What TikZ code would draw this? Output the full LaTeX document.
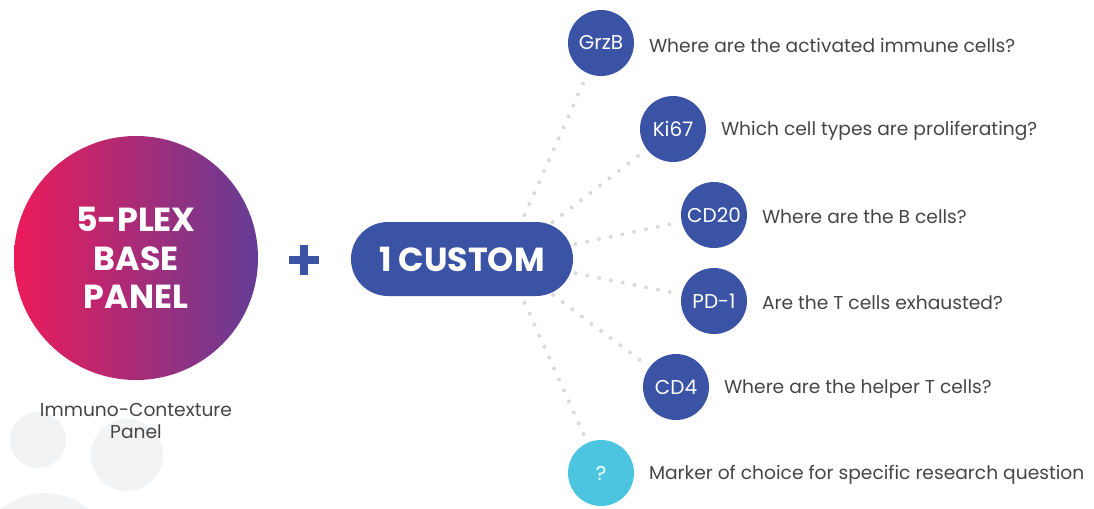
\documentclass[tikz,border=0pt]{standalone}
\usepackage{fontspec}
\setmainfont{Poppins}
\usetikzlibrary{positioning}

\definecolor{markerblue}{HTML}{3A53A4}
\definecolor{markercyan}{HTML}{4BC5E0}
\definecolor{plexred}{HTML}{EC1B5A}
\definecolor{plexpurple}{HTML}{643C95}
\definecolor{dotgray}{HTML}{D8DADF}
\definecolor{bubblegray}{HTML}{F2F3F5}
\definecolor{textgray}{HTML}{454545}

\tikzset{every picture/.style={line width=0.75pt}}
\tikzset{
  marker/.style={circle, fill=markerblue, text=white, minimum size=49.5pt, inner sep=0pt,
    font=\fontsize{15}{17}\selectfont},
  question/.style={inner sep=0pt, text=textgray, yshift=-1.5pt, font=\fontsize{14}{16}\selectfont},
  dotline/.style={dotgray, line width=3pt, line cap=round, dash pattern=on 0pt off 9pt,
    shorten >=3pt},
  node distance=10.5pt
}

\begin{document}
\begin{tikzpicture}[x=0.75pt,y=0.75pt,yscale=-1,xscale=1]
    \useasboundingbox (0,0) rectangle (1094,508);
    \clip (0,0) rectangle (1094,508);
    %Shape: Circle [id:bubbles]
    \fill[bubblegray] (38,440) circle (28);
    \fill[bubblegray] (127,455) circle (36);
    \fill[bubblegray] (45,560) circle (67);
    %Shape: Circle [id:base]
    \node (base) [circle, minimum size=183pt, inner sep=0pt, left color=plexred, right color=plexpurple,
      text=white, align=center, font=\bfseries\fontsize{25}{29}\selectfont] at (136,258) {5-PLEX\\BASE\\PANEL};
    \node (caption) [align=center, text=textgray, font=\fontsize{14}{17}\selectfont] at (136,421) {Immuno-Contexture\\Panel};
    %Plus sign
    \draw[markerblue, line width=6pt] (289,260) -- (319,260) (304,245) -- (304,275);
    %Markers
    \coordinate (hub) at (505,259);
    \node (grzb) [marker] at (601,43) {GrzB};
    \node (ki67) [marker] at (673,129) {Ki67};
    \node (cd20) [marker] at (714,215) {CD20};
    \node (pd1) [marker] at (714,301) {PD-1};
    \node (cd4) [marker] at (676,387) {CD4};
    \node (other) [marker, fill=markercyan] at (601,473) {?};
    %Dotted Lines
    \foreach \m in {grzb,ki67,cd20,pd1,cd4,other}
      \draw[dotline] (hub) -- (\m);
    %Shape: Rounded Rect [id:custom]
    \node (custom) [fill=markerblue, rounded corners=27.7pt, minimum width=166.5pt, minimum height=55.5pt,
      text=white, font=\bfseries\fontsize{25}{29}\selectfont] at (462,259) {1 CUSTOM};
    %Questions
    \node (qgrzb) [question, right=of grzb] {Where are the activated immune cells?};
    \node (qki67) [question, right=of ki67] {Which cell types are proliferating?};
    \node (qcd20) [question, right=of cd20] {Where are the B cells?};
    \node (qpd1) [question, right=of pd1] {Are the T cells exhausted?};
    \node (qcd4) [question, right=of cd4] {Where are the helper T cells?};
    \node (qother) [question, right=of other] {Marker of choice for specific research question};
\end{tikzpicture}
\end{document}
